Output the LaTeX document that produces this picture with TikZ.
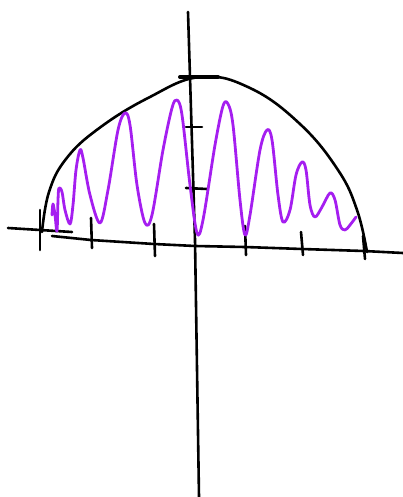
\documentclass[tikz,border=0pt]{standalone}
\usepackage{tikz}
\definecolor{wavepurple}{RGB}{165,30,240}

\begin{document}
\begin{tikzpicture}[x=1pt,y=-1pt,line cap=round,line join=round,
                    pen/.style={black,line width=2.6pt},
                    wave/.style={wavepurple,line width=2.8pt}]
  \useasboundingbox (0,0) rectangle (403,497);
  % axes, drawn by hand
  \coordinate (yTop) at (188,12);
  \coordinate (yBot) at (199,497);
  \coordinate (xL) at (8,228);
  \coordinate (xLend) at (72,232);
  \coordinate (xM) at (52,236);
  \coordinate (xR) at (403,253);
  \draw[pen] (yTop) -- (190,77) -- (195,240) -- (yBot);
  \draw[pen] (xL) -- (40,230) -- (xLend);
  \draw[pen] (xM) -- (91,240) -- (154,244) -- (195,246) -- (245,247)
             -- (302,249) -- (364,251) -- (xR);
  % ticks on the x axis
  \draw[pen] (40,210) -- (40,250);
  \draw[pen] (91,218) -- (92,248);
  \draw[pen] (154,224) -- (155,256);
  \draw[pen] (245,226) -- (246,255);
  \draw[pen] (301,232) -- (303,255);
  \draw[pen] (363,236) -- (365,259);
  % ticks on the y axis
  \draw[pen,line width=4pt] (180,77) -- (218,77);
  \draw[pen] (186,127) -- (202,127);
  \draw[pen] (186,188) -- (207,189);
  % envelope
  \draw[pen] plot[smooth,tension=0.7] coordinates {
    (42,232) (49,192) (66,159) (98,129) (148,98) (200,77) (250,88)
    (300,124) (338,170) (357,210) (367,252)};
  % oscillation
  \draw[wave] plot[smooth,tension=0.55] coordinates {
    (52,215) (53,204) (55,215) (57,231) (58,200) (59,188) (62,192)
    (65,210) (70,224) (73,205) (76,170) (80,150) (83,158) (90,195)
    (100,223) (108,190) (118,130) (125,113) (130,125) (137,185)
    (145,223) (152,215) (163,150) (172,108) (177,100) (182,115)
    (190,185) (197,233) (203,220) (215,145) (223,106) (228,104)
    (233,125) (240,200) (245,235) (250,215) (260,150) (267,130)
    (272,140) (278,195) (283,222) (290,210) (296,175) (302,162)
    (306,170) (310,205) (315,217) (322,207) (330,193) (335,200)
    (340,225) (345,230) (350,225) (356,217)};
\end{tikzpicture}
\end{document}
